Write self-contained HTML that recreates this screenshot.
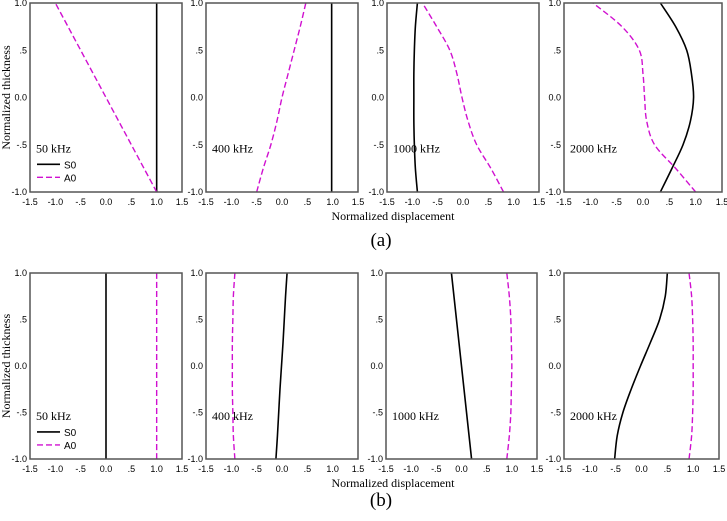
<!DOCTYPE html>
<html><head><meta charset="utf-8"><style>
body{margin:0;background:#fff;width:727px;height:516px;overflow:hidden}
svg text{font-family:"Liberation Sans",sans-serif}
.serif{font-family:"Liberation Serif",serif}
</style></head><body>
<svg id="chart" width="727" height="516" xmlns="http://www.w3.org/2000/svg"></svg>
<script>
const yVals=[-1,-0.75,-0.5,-0.25,0,0.25,0.5,0.75,1];
const xTicks=[-1.5,-1.0,-0.5,0.0,0.5,1.0,1.5];
const xTickLabels=["-1.5","-1.0","-.5","0.0",".5","1.0","1.5"];
const yTicks=[-1,-0.5,0,0.5,1];
const yTickLabels=["-1.0","-.5","0.0",".5","1.0"];
const freqs=["50 kHz","400 kHz","1000 kHz","2000 kHz"];
// top row (a)
const aS0_50=[1,1,1,1,1,1,1,1,1];
const aA0_50=[1,0.75,0.5,0.25,0,-0.25,-0.5,-0.75,-1];
const aS0_400=[0.98,0.98,0.98,0.98,0.98,0.98,0.98,0.98,0.98];
const aA0_400=[-0.5,-0.37,-0.22,-0.1,0,0.12,0.24,0.36,0.47];
const aS0_1000=[-0.9,-0.94,-0.96,-0.97,-0.97,-0.97,-0.96,-0.94,-0.9];
const aA0_1000=[0.8,0.55,0.27,0.1,-0.02,-0.12,-0.26,-0.52,-0.8];
const aS0_2000=[0.33,0.55,0.76,0.9,0.96,0.92,0.83,0.62,0.33];
const aA0_2000=[1,0.62,0.22,0.07,0.03,0.0,-0.07,-0.4,-0.95];
// bottom row (b)
const bS0_50=[0,0,0,0,0,0,0,0,0];
const bA0_50=[1,1,1,1,1,1,1,1,1];
const bS0_400=[-0.12,-0.09,-0.065,-0.04,-0.01,0.02,0.045,0.07,0.1];
const bA0_400=[-0.93,-0.96,-0.97,-0.98,-0.98,-0.98,-0.97,-0.96,-0.93];
const bS0_1000=[0.2,0.15,0.1,0.05,0,-0.05,-0.1,-0.15,-0.2];
const bA0_1000=[0.9,0.95,0.98,0.99,1.0,0.99,0.98,0.95,0.9];
const bS0_2000=[-0.52,-0.47,-0.36,-0.2,-0.02,0.17,0.35,0.46,0.5];
const bA0_2000=[0.92,0.97,0.99,1.0,1.0,1.0,0.99,0.97,0.92];

const rows=[
 {tag:"a",top:3,bot:192,panels:[[30,182],[206,358],[387,539],[564,722]],S0:[aS0_50,aS0_400,aS0_1000,aS0_2000],A0:[aA0_50,aA0_400,aA0_1000,aA0_2000],labelY:240},
 {tag:"b",top:273,bot:459,panels:[[30,182],[206,358],[386,537],[564,719]],S0:[bS0_50,bS0_400,bS0_1000,bS0_2000],A0:[bA0_50,bA0_400,bA0_1000,bA0_2000],labelY:500}
];
const svg=document.getElementById('chart');
const NS="http://www.w3.org/2000/svg";
function mk(tag,attrs,parent){const e=document.createElementNS(NS,tag);for(const k in attrs)e.setAttribute(k,attrs[k]);(parent||svg).appendChild(e);return e;}
function smooth(pts){let d="M"+pts[0][0]+","+pts[0][1];for(let i=0;i<pts.length-1;i++){const p0=pts[Math.max(i-1,0)],p1=pts[i],p2=pts[i+1],p3=pts[Math.min(i+2,pts.length-1)];const c1=[p1[0]+(p2[0]-p0[0])/6,p1[1]+(p2[1]-p0[1])/6],c2=[p2[0]-(p3[0]-p1[0])/6,p2[1]-(p3[1]-p1[1])/6];d+=" C"+c1[0]+","+c1[1]+" "+c2[0]+","+c2[1]+" "+p2[0]+","+p2[1];}return d;}
rows.forEach((r,ri)=>{
 r.panels.forEach((p,pi)=>{
  const g=mk('g',{});
  
  
  const sx=v=>p[0]+(v+1.5)/3*(p[1]-p[0]);
  const sy=v=>r.bot-(v+1)/2*(r.bot-r.top);
  xTicks.forEach((t,i)=>{
   const tx=mk('text',{x:sx(t),y:r.bot+13,'font-size':9,'text-anchor':'middle',fill:'#000'},g);
   tx.textContent=xTickLabels[i];
   
   
  });
  yTicks.forEach((t,i)=>{
   const tx=mk('text',{x:p[0]-3,y:sy(t)+3,'font-size':9,'text-anchor':'end',fill:'#000'},g);
   tx.textContent=yTickLabels[i];
   
   
  });
  const s0=mk('path',{d:smooth(yVals.map((y,i)=>[sx(r.S0[pi][i]),sy(y)])),fill:'none',stroke:'#000','stroke-width':1.6},g);
  
  
  const a0=mk('path',{d:smooth(yVals.map((y,i)=>[sx(r.A0[pi][i]),sy(y)])),fill:'none',stroke:'#d010d0','stroke-width':1.4,'stroke-dasharray':'6,3'},g);
  
  
  const fr=mk('rect',{x:p[0],y:r.top,width:p[1]-p[0],height:r.bot-r.top,fill:'none',stroke:'#555','stroke-width':1.5},g);
  
  
  const fl=mk('text',{x:p[0]+6,y:sy(-0.58),'font-size':12,'class':'serif',fill:'#000'},g);
  fl.textContent=freqs[pi];
  
  
  if(pi===0){
   const ly1=sy(-0.58)+12, ly2=ly1+13;
   const l1=mk('line',{x1:p[0]+7,x2:p[0]+30,y1:ly1,y2:ly1,stroke:'#000','stroke-width':1.6},g);
   
   
   const t1=mk('text',{x:p[0]+34,y:ly1+4,'font-size':10,fill:'#000'},g);t1.textContent="S0";
   
   
   const l2=mk('line',{x1:p[0]+7,x2:p[0]+30,y1:ly2,y2:ly2,stroke:'#d010d0','stroke-width':1.4,'stroke-dasharray':'6,3'},g);
   
   
   const t2=mk('text',{x:p[0]+34,y:ly2+4,'font-size':10,fill:'#000'},g);t2.textContent="A0";
   
   
  }
 });
 const yt=mk('text',{x:0,y:0,'font-size':12,'class':'serif','text-anchor':'middle',transform:'translate(10,'+((r.top+r.bot)/2)+') rotate(-90)',fill:'#000'});
 yt.textContent="Normalized thickness";
 
 
 const xt=mk('text',{x:393,y:r.bot+28,'font-size':12,'class':'serif','text-anchor':'middle',fill:'#000'});
 xt.textContent="Normalized displacement";
 
 
 const lb=mk('text',{x:381,y:r.labelY+6,'font-size':19,'class':'serif','text-anchor':'middle',fill:'#000'});
 lb.textContent="("+r.tag+")";
 
 
});
</script>
</body></html>
